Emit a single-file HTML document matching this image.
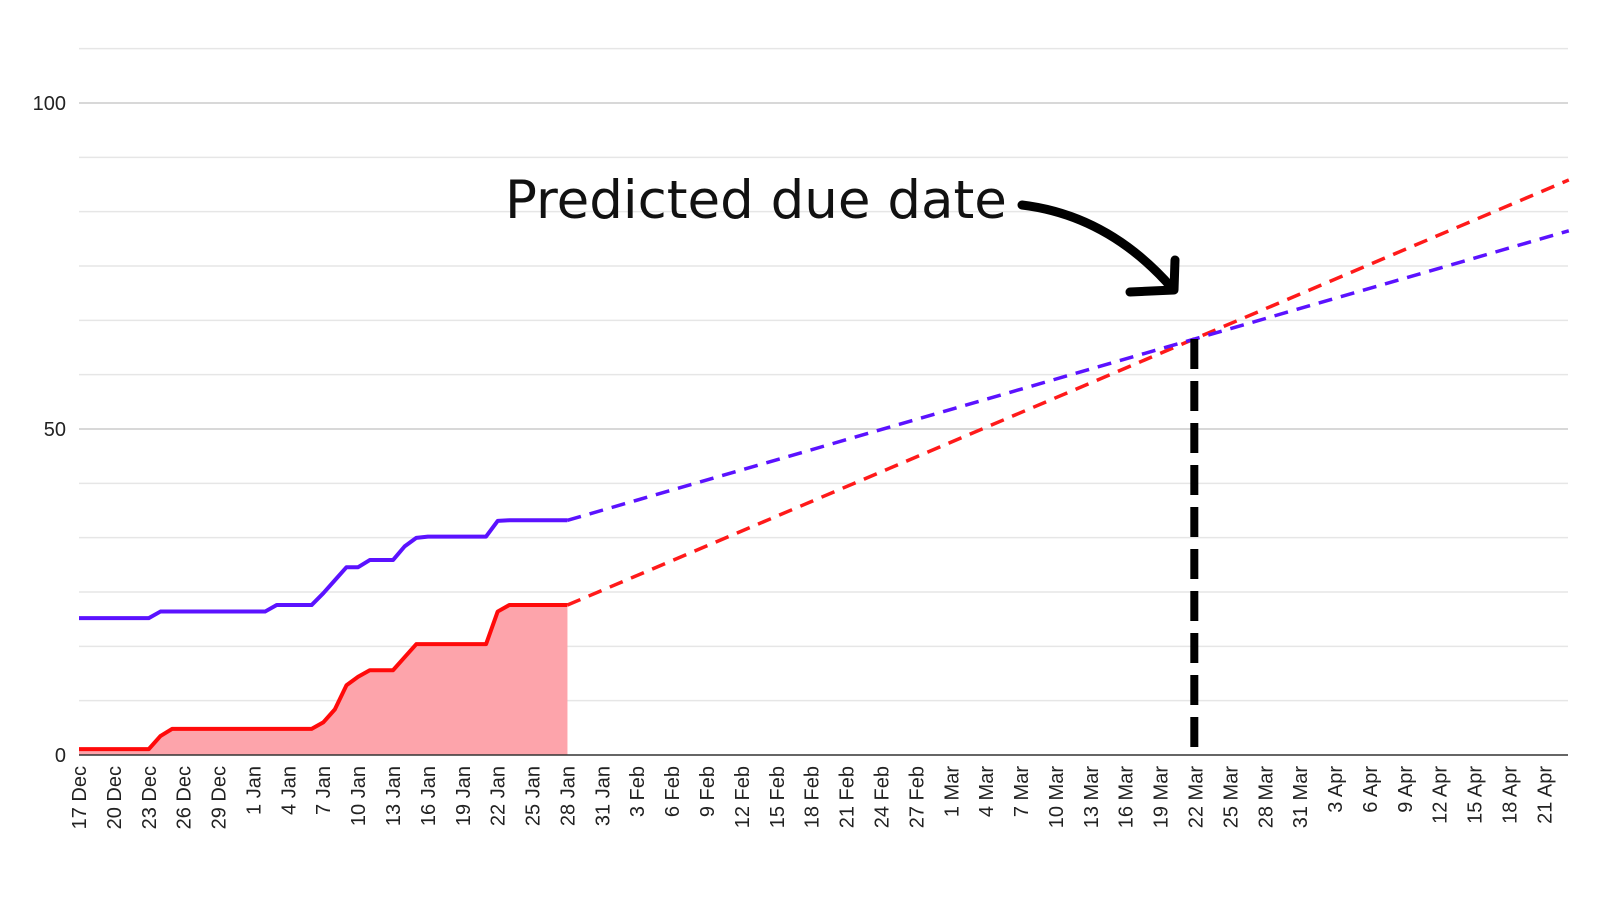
<!DOCTYPE html>
<html><head><meta charset="utf-8"><style>
html,body{margin:0;padding:0;background:#fff;}
svg{display:block;font-family:"Liberation Sans",sans-serif;}
</style></head><body>
<svg id="chart" width="1600" height="914" xmlns="http://www.w3.org/2000/svg">
<g id="grid"></g>
<g id="series"></g>
<g id="axes"></g>
<g id="annot">
<text x="505" y="218" font-family="DejaVu Sans, sans-serif" font-size="53" fill="#111">Predicted due date</text>
<path d="M1022,205 C1080,212 1130,240 1172,288" stroke="#000" stroke-width="9" fill="none" stroke-linecap="round"/>
<path d="M1130,292 L1174,290 L1175,260" stroke="#000" stroke-width="9" fill="none" stroke-linecap="round" stroke-linejoin="round"/>
</g>
</svg>
<script>
const startDate = [2023, 12, 17];
const totalScope = [21,21,21,21,21,21,21,22,22,22,22,22,22,22,22,22,22,23,23,23,23,24.8,26.8,28.8,28.8,29.9,29.9,29.9,32,33.3,33.5,33.5,33.5,33.5,33.5,33.5,35.9,36,36,36,36,36,36];
const completed = [0.9,0.9,0.9,0.9,0.9,0.9,0.9,2.9,4,4,4,4,4,4,4,4,4,4,4,4,4,5,7,10.7,12,13,13,13,15,17,17,17,17,17,17,17,22,23,23,23,23,23,23];
const scopeProjection = [[42,36],[128.1,80.4]];
const completedProjection = [[42,23],[128.1,88.2]];
const dueDay = [95.9];
const yTicks = [0,50,100];
const ns = "http://www.w3.org/2000/svg";
const X0 = 79, DX = 11.63, Y0 = 755, DY = 6.52, XR = 1568;
const x = d => X0 + d * DX;
const y = v => Y0 - v * DY;
function mk(tag, attrs, parent){const e=document.createElementNS(ns,tag);for(const k in attrs)e.setAttribute(k,attrs[k]);parent.appendChild(e);return e;}
const grid=document.getElementById('grid'), series=document.getElementById('series'), axes=document.getElementById('axes');
for(let i=1;i<=13;i++){
  const v=i*100/12;
  const l=mk('line',{x1:X0,x2:XR,y1:y(v),y2:y(v),stroke:(i%6==0)?'#ccc':'#e6e6e6','stroke-width':1.5},grid);
  
  
}
yTicks.forEach(t=>{
  const tx=mk('text',{x:66,y:y(t)+7,'text-anchor':'end','font-size':20,fill:'#222'},axes);
  tx.textContent=t;
  
  
});
const months=['Jan','Feb','Mar','Apr','May','Jun','Jul','Aug','Sep','Oct','Nov','Dec'];
for(let d=0;x(d)<XR;d+=3){
  const dt=new Date(startDate[0],startDate[1]-1,startDate[2]+d);
  const lbl=dt.getDate()+' '+months[dt.getMonth()];
  const tx=mk('text',{transform:`translate(${x(d)+7},766) rotate(-90)`,'text-anchor':'end','font-size':20,fill:'#222'},axes);
  tx.textContent=lbl;
  
  
}
let ap=`M${x(0)},${Y0}`;completed.forEach((v,i)=>ap+=` L${x(i)},${y(v)}`);ap+=` L${x(completed.length-1)},${Y0} Z`;
const area=mk('path',{d:ap,fill:'#fda4ab'},series);


const line=(arr,c,name)=>{const p=mk('polyline',{points:arr.map((v,i)=>x(i)+','+y(v)).join(' '),fill:'none',stroke:c,'stroke-width':4,'stroke-linejoin':'round'},series);
  
  };
line(totalScope,'#5b12ff','total-scope-line');
line(completed,'#ff0a0a','completed-line');
const proj=(arr,c,name)=>{const p=mk('line',{x1:x(arr[0][0]),y1:y(arr[0][1]),x2:x(arr[1][0]),y2:y(arr[1][1]),stroke:c,'stroke-width':3.5,'stroke-dasharray':'14 9'},series);
  
  };
proj(completedProjection,'#ff1a1a','completed-projection');
proj(scopeProjection,'#5b12ff','scope-projection');
const ax=mk('line',{x1:X0,x2:XR,y1:Y0,y2:Y0,stroke:'#333','stroke-width':1.5},axes);


const s1=(scopeProjection[1][1]-scopeProjection[0][1])/(scopeProjection[1][0]-scopeProjection[0][0]);
const dueVal=scopeProjection[0][1]+s1*(dueDay[0]-scopeProjection[0][0]);
const dl=mk('line',{x1:x(dueDay[0]),x2:x(dueDay[0]),y1:y(dueVal),y2:Y0,stroke:'#000','stroke-width':8,'stroke-dasharray':'30 12'},series);


</script>
</body></html>
